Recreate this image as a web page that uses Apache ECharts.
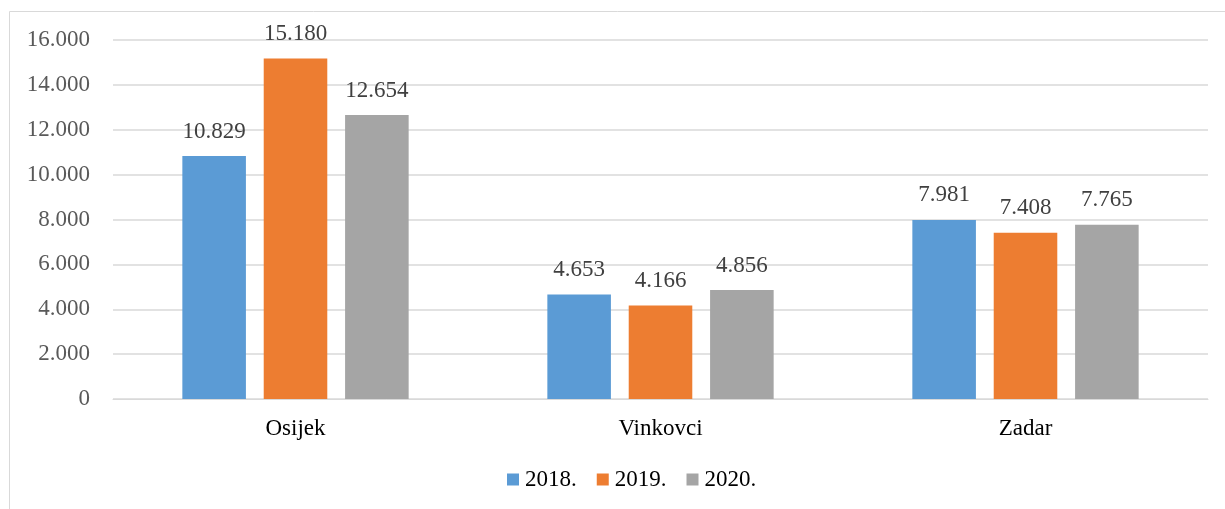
<!DOCTYPE html>
<html>
<head>
<meta charset="utf-8">
<script src="https://cdn.jsdelivr.net/npm/echarts@6/dist/echarts.min.js"></script>
<style>
  html, body { margin: 0; padding: 0; background: #fff; }
  #chart { width: 1225px; height: 509px; }
</style>
</head>
<body>
<div id="chart"></div>
<script>
// podaci s grafa
var categories = ['Osijek', 'Vinkovci', 'Zadar'];
var values2018 = [10829, 4653, 7981];
var values2019 = [15180, 4166, 7408];
var values2020 = [12654, 4856, 7765];
var seriesNames = ['2018.', '2019.', '2020.'];
var colors = ['#5B9BD5', '#ED7D31', '#A5A5A5'];

var font = '"Liberation Serif", "Times New Roman", serif';

// 16000 -> "16.000"
function fmt(v) {
  return String(v).replace(/\B(?=(\d{3})+(?!\d))/g, '.');
}

function makeSeries(name, data, color) {
  return {
    name: name,
    type: 'bar',
    data: data,
    barGap: '28%',
    barCategoryGap: '38%',
    itemStyle: { color: color },
    label: {
      show: true,
      position: 'top',
      distance: 13,
      color: '#404040',
      fontFamily: font,
      fontSize: 23,
      formatter: function (p) { return fmt(p.value); }
    }
  };
}

var myChart = echarts.init(document.getElementById('chart'));
myChart.setOption({
  animation: false,
  color: colors,
  graphic: [{
    type: 'rect',
    shape: { x: 9.5, y: 11.5, width: 1400, height: 700 },
    style: { fill: 'none', stroke: '#d9d9d9', lineWidth: 1 },
    silent: true
  }],
  grid: { left: 113, right: 17, top: 40, bottom: 110 },
  legend: {
    data: seriesNames,
    bottom: 13,
    left: 502,
    icon: 'rect',
    itemWidth: 12,
    itemHeight: 12,
    itemGap: 20,
    textStyle: { fontFamily: font, fontSize: 23, color: '#000', padding: [0, 0, 0, 1] }
  },
  xAxis: {
    type: 'category',
    data: categories,
    axisLine: { lineStyle: { color: '#d9d9d9', width: 1 } },
    axisTick: { show: false },
    axisLabel: { fontFamily: font, fontSize: 23, color: '#000', margin: 18 }
  },
  yAxis: {
    type: 'value',
    min: 0,
    max: 16000,
    interval: 2000,
    axisLine: { show: false },
    axisTick: { show: false },
    splitLine: { lineStyle: { color: '#d9d9d9', width: 1.5 } },
    axisLabel: {
      fontFamily: font, fontSize: 23, color: '#595959', margin: 23,
      formatter: function (v) { return fmt(v); }
    }
  },
  series: [
    makeSeries(seriesNames[0], values2018, colors[0]),
    makeSeries(seriesNames[1], values2019, colors[1]),
    makeSeries(seriesNames[2], values2020, colors[2])
  ]
});
</script>
</body>
</html>
